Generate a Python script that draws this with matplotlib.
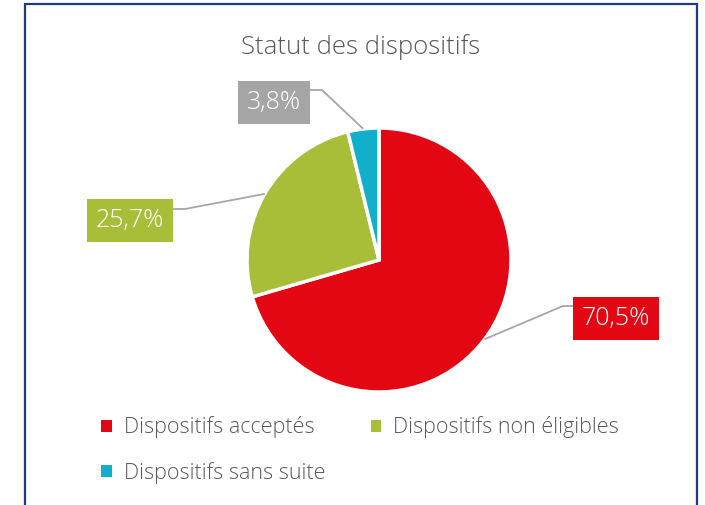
import numpy as np
import matplotlib
matplotlib.use('Agg')
import matplotlib.pyplot as plt
from matplotlib.patches import Rectangle

# data
labels = ['Dispositifs acceptés', 'Dispositifs non éligibles', 'Dispositifs sans suite']
values = [70.5, 25.7, 3.8]
value_text = ['70,5%', '25,7%', '3,8%']
colors = ['#E30613', '#A9BE38', '#12AFCB']
box_colors = ['#E30613', '#A9BE38', '#A5A5A5']

plt.rcParams['font.family'] = ['Open Sans', 'DejaVu Sans']

W, H = 705, 505
fig = plt.figure(figsize=(W / 100.0, H / 100.0), dpi=100)
ax = fig.add_axes([0, 0, 1, 1])
ax.set_xlim(0, W)
ax.set_ylim(0, H)
ax.axis('off')

def py(y):
    # pixel row -> data y
    return H - y

# chart border
ax.add_patch(Rectangle((25, py(520)), 672, 516, fill=False, ec='#1F3A8A', lw=1.6))

ax.text(361, py(47), 'Statut des dispositifs', ha='center', va='center',
        fontsize=18.5, color='#595959', fontweight='light')

cx, cy, r = 379, py(260), 132
wedges, _ = ax.pie(values, colors=colors, center=(cx, cy), radius=r,
                   startangle=90, counterclock=False,
                   wedgeprops=dict(edgecolor='white', linewidth=2.5))
ax.set_xlim(0, W)
ax.set_ylim(0, H)
ax.set_aspect('equal')

# label boxes: centre of box (px), elbow point (px)
box_pos = [(616, 318), (130, 220), (274, 102)]
elbows = [(563, 306), (185, 209), (322, 90)]
box_edge = [574, 172, 310]
for i, w in enumerate(wedges):
    mid = np.deg2rad((w.theta1 + w.theta2) / 2.0)
    ex = cx + r * np.cos(mid)
    ey = cy + r * np.sin(mid)
    bx, by = elbows[i]
    ax.plot([ex, bx, box_edge[i]], [ey, py(by), py(by)], color='#A6A6A6', lw=1.3,
            solid_capstyle='butt')
    ax.text(box_pos[i][0], py(box_pos[i][1]), value_text[i], ha='center', va='center',
            fontsize=18, color='white', fontweight='light',
            bbox=dict(boxstyle='square,pad=0.36', fc=box_colors[i], ec='none'))

order = [0, 2, 1]
leg = ax.legend([wedges[k] for k in order], [labels[k] for k in order],
                ncol=2, frameon=False, loc='upper left',
                bbox_to_anchor=(82 / W, 1 - 397 / H),
                prop=dict(size=15.5, weight='light'),
                handlelength=0.5, handleheight=0.5, handletextpad=0.55,
                columnspacing=2.1, labelspacing=1.08)
for t in leg.get_texts():
    t.set_color('#595959')
for h in leg.legend_handles:
    h.set_edgecolor('none')

fig.savefig('out.png', dpi=100)
